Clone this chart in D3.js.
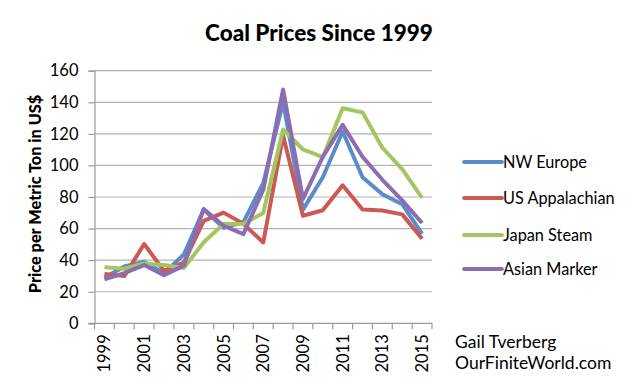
<!DOCTYPE html>
<html><head><meta charset="utf-8">
<script src="https://cdn.jsdelivr.net/npm/d3@7"></script>
<style>body{margin:0;background:#fff}svg{display:block}text{font-family:Lato,"Open Sans",sans-serif}</style>
</head><body>
<svg id="c" width="640" height="381"></svg>
<script>
const years = [1999,2000,2001,2002,2003,2004,2005,2006,2007,2008,2009,2010,2011,2012,2013,2014,2015];
const nwEurope     = [28.8,36.0,39.0,31.7,43.6,72.1,60.5,64.1,88.8,140.0,72.0,92.5,121.5,92.5,81.7,75.4,56.6];
const usAppalachian= [31.3,29.9,50.2,33.2,38.5,64.9,70.1,63.0,51.2,118.8,68.1,71.6,87.4,72.1,71.4,69.0,53.6];
const japanSteam   = [35.5,34.6,37.9,36.9,35.0,51.3,62.9,63.0,69.9,122.8,110.1,105.2,136.2,133.6,111.2,97.7,79.5];
const asianMarker  = [27.8,31.8,36.9,30.5,36.5,72.4,61.8,56.5,84.6,148.1,78.8,105.4,125.7,105.5,90.9,77.9,63.5];
const seriesNames  = ["NW Europe","US Appalachian","Japan Steam","Asian Marker"];
const seriesColors = ["#5a8ccb","#cb5a55","#a2c760","#8b6db0"];
const yTicks = [0,20,40,60,80,100,120,140,160];
const xLabelYears = [1999,2001,2003,2005,2007,2009,2011,2013,2015];

const svg = d3.select("#c");
const L=94.5, R=432, T=70.7, B=323.3;
const x = d3.scaleBand().domain(years).range([L,R]);
const y = d3.scaleLinear().domain([0,160]).range([B,T]);

// grid
svg.append("g").selectAll("line").data(yTicks.slice(1)).join("line")
  .attr("x1",L).attr("x2",R).attr("y1",d=>y(d)).attr("y2",d=>y(d))
  .attr("stroke","#b3b3b3").attr("stroke-width",1.2);
// y axis
const ya = svg.append("g").attr("transform",`translate(${L},0)`)
  .call(d3.axisLeft(y).tickValues(yTicks).tickSize(6).tickPadding(10));
ya.select(".domain").attr("stroke","#999").attr("stroke-width",1.2);
ya.selectAll(".tick line").attr("stroke","#999").attr("stroke-width",1.2);
ya.selectAll("text").attr("font-size",16.5).attr("fill","#000").attr("font-family","Lato");
// x axis
const xa = svg.append("g").attr("transform",`translate(0,${B})`);
xa.append("line").attr("x1",L-6).attr("x2",R).attr("stroke","#999").attr("stroke-width",1.2);
const bounds = years.map(d=>x(d)).concat([x(years[years.length-1])+x.bandwidth()]);
xa.selectAll(".tk").data(bounds).join("line").attr("class","tk")
  .attr("x1",d=>d).attr("x2",d=>d).attr("y1",0).attr("y2",6).attr("stroke","#999").attr("stroke-width",1.2);
xa.selectAll("text").data(xLabelYears).join("text")
  .attr("transform",d=>`translate(${x(d)+x.bandwidth()/2+6},11) rotate(-90)`)
  .attr("text-anchor","end").attr("font-size",16.5).text(d=>d);

// lines
const data=[nwEurope,usAppalachian,japanSteam,asianMarker];
const line=d3.line().x((d,i)=>x(years[i])+x.bandwidth()/2).y(d=>y(d));
svg.append("g").selectAll("path").data(data).join("path")
  .attr("d",line).attr("fill","none").attr("stroke",(d,i)=>seriesColors[i])
  .attr("stroke-width",4).attr("stroke-linejoin","round");

// title
svg.append("text").attr("x",319).attr("y",41).attr("text-anchor","middle")
  .attr("font-size",22.5).attr("font-weight","900").text("Coal Prices Since 1999");
svg.append("text").attr("transform","translate(41,194) rotate(-90)").attr("text-anchor","middle")
  .attr("font-size",16.3).attr("font-weight","900").text("Price per Metric Ton in US$");

// legend
const lg=svg.append("g").selectAll("g").data(seriesNames).join("g")
  .attr("transform",(d,i)=>`translate(464,${[162,198,235,269][i]})`);
lg.append("line").attr("x1",0).attr("x2",38).attr("stroke",(d,i)=>seriesColors[i]).attr("stroke-width",3.8).attr("stroke-linecap","round");
lg.append("text").attr("x",39).attr("y",6).attr("font-size",16.3).text(d=>d);

svg.append("text").attr("x",455).attr("y",348).attr("font-size",17.5).text("Gail Tverberg");
svg.append("text").attr("x",455).attr("y",369).attr("font-size",17.5).text("OurFiniteWorld.com");
</script>
</body></html>
